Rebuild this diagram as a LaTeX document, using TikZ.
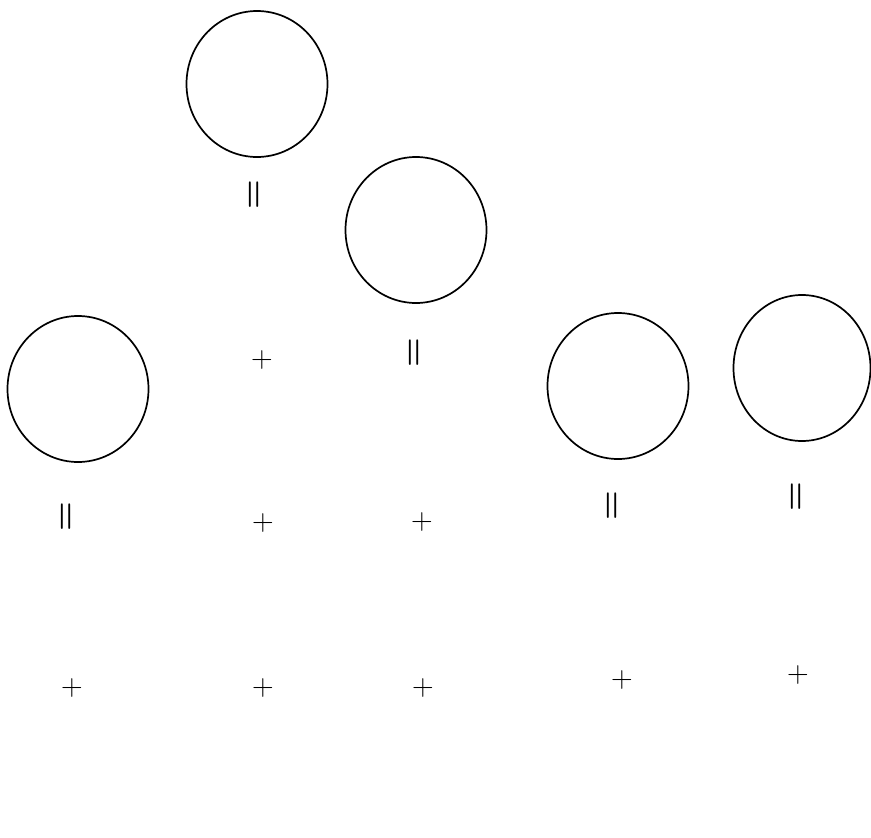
\documentclass[tikz,border=0pt]{standalone}
\usetikzlibrary{shapes.geometric}

\begin{document}
\begin{tikzpicture}[
  x=1pt, y=-1pt,
  blank/.style = {draw, ellipse, line width=1.7pt, minimum width=141pt, minimum height=146pt, inner sep=0pt},
  plussign/.style = {font=\fontsize{30}{30}\selectfont, inner sep=0pt, node contents={+}},
  eqsign/.style = {font=\bfseries\fontsize{34}{34}\selectfont, inner sep=0pt, rotate=90, node contents={=}}
]
  \useasboundingbox (0,0) rectangle (871,838);

  % Blank circles
  \node[blank] (c1) at (257,84) {};
  \node[blank] (c2) at (416,230) {};
  \node[blank] (c3) at (78,389) {};
  \node[blank] (c4) at (618,386) {};
  \node[blank, minimum width=137pt] (c5) at (802,368) {};

  % Equals signs (written upright)
  \node (e1) at (256,195) [eqsign];
  \node (e2) at (416,353) [eqsign];
  \node (e3) at (68,517) [eqsign];
  \node (e4) at (614,506) [eqsign];
  \node (e5) at (798,497) [eqsign];

  % Plus signs
  \node (p1) at (262,360) [plussign];
  \node (p2) at (263,523) [plussign];
  \node (p3) at (422,522) [plussign];
  \node (p4) at (72,688) [plussign];
  \node (p5) at (263,688) [plussign];
  \node (p6) at (423,688) [plussign];
  \node (p7) at (622,680) [plussign];
  \node (p8) at (798,675) [plussign];

\end{tikzpicture}
\end{document}
